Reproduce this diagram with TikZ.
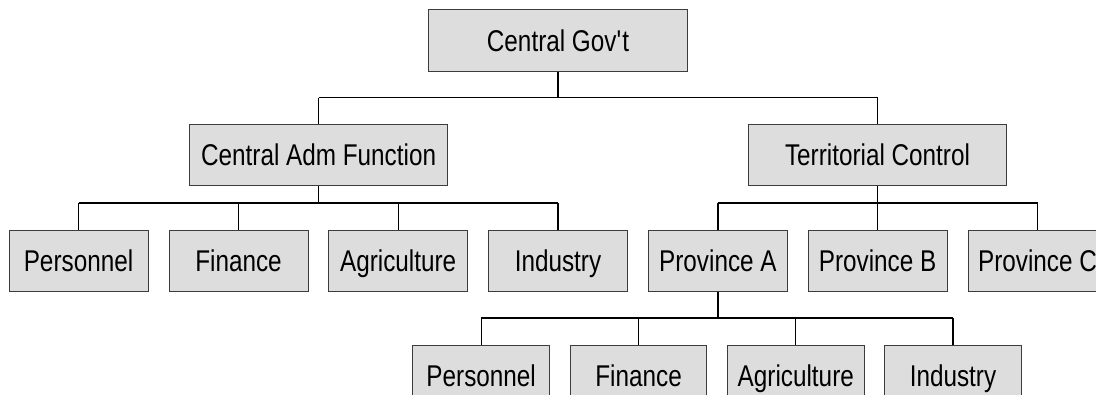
\documentclass[tikz,border=0pt]{standalone}
\usepackage{fontspec}
\setmainfont{Liberation Sans}[FakeStretch=0.81]
\definecolor{boxfill}{HTML}{DDDDDD}
\definecolor{boxline}{HTML}{3C3C3C}
\begin{document}
\begin{tikzpicture}[x=1pt,y=-1pt,
  unit/.style={draw=boxline,line width=1pt,fill=boxfill,inner sep=0pt,
    minimum height=61.4pt,text height=21.5pt,text depth=0pt,
    font=\fontsize{30}{36}\selectfont},
  wide/.style={unit,minimum width=258.5pt},
  mid/.style={unit,minimum width=139pt},
  small/.style={unit,minimum width=136.5pt},
  vline/.style={line width=1.2pt},
  hline/.style={line width=1.7pt}]
\useasboundingbox (0,0) rectangle (1096,394);
\clip (0,0) rectangle (1096,394);
% bus levels
\coordinate (busA) at (0,97.5);
\coordinate (busB) at (0,203);
\coordinate (busC) at (0,318);
% nodes
\node[wide] (gov) at (558,40.5) {Central Gov\textquotesingle t};
\node[wide] (adm) at (318.6,155.2) {Central Adm Function};
\node[wide] (terr) at (877.5,155.2) {Territorial Control};
\node[mid] (pers) at (78.5,261) {Personnel};
\node[mid] (fin) at (238.5,261) {Finance};
\node[mid] (agr) at (398.2,261) {Agriculture};
\node[mid] (ind) at (558,261) {Industry};
\node[mid] (pa) at (717.9,261) {Province A};
\node[mid] (pb) at (877.6,261) {Province B};
\node[mid] (pc) at (1037.5,261) {Province C};
\node[small] (pers2) at (481.2,376.1) {Personnel};
\node[small] (fin2) at (638.6,376.1) {Finance};
\node[small] (agr2) at (795.8,376.1) {Agriculture};
\node[small] (ind2) at (953,376.1) {Industry};
% level 1 -> 2
\draw[vline] (gov.south) -- (gov.south |- busA);
\draw[hline] (adm.north |- busA) -- (terr.north |- busA);
\foreach \n in {adm,terr} \draw[vline] (\n.north) -- (\n.north |- busA);
% adm -> level 3
\draw[vline] (adm.south) -- (adm.south |- busB);
\draw[hline] (pers.north |- busB) -- (ind.north |- busB);
\foreach \n in {pers,fin,agr,ind} \draw[vline] (\n.north) -- (\n.north |- busB);
% terr -> provinces
\draw[vline] (terr.south) -- (terr.south |- busB);
\draw[hline] (pa.north |- busB) -- (pc.north |- busB);
\foreach \n in {pa,pb,pc} \draw[vline] (\n.north) -- (\n.north |- busB);
% province A -> level 4
\draw[vline] (pa.south) -- (pa.south |- busC);
\draw[hline] (pers2.north |- busC) -- (ind2.north |- busC);
\foreach \n in {pers2,fin2,agr2,ind2} \draw[vline] (\n.north) -- (\n.north |- busC);
\end{tikzpicture}
\end{document}
